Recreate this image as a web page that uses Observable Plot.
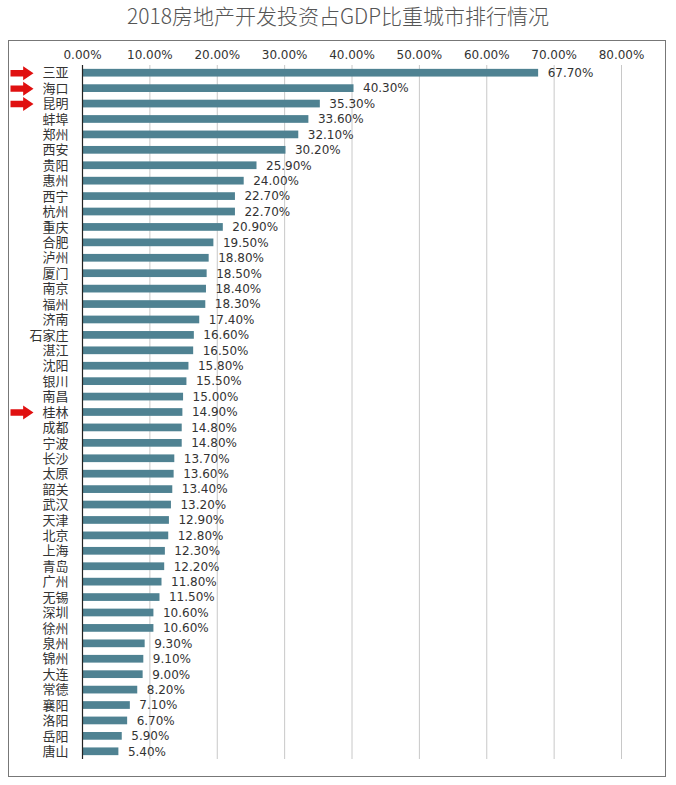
<!DOCTYPE html>
<html>
<head>
<meta charset="utf-8">
<script src="https://cdn.jsdelivr.net/npm/d3@7"></script>
<script src="https://cdn.jsdelivr.net/npm/@observablehq/plot@0.6"></script>
<style>
  html, body { margin: 0; padding: 0; background: #fff; }
  #page { position: relative; width: 676px; height: 785px; }
  #title { position: absolute; left: 0; top: 0px; width: 676px; text-align: center;
    font-family: "Noto Sans CJK SC", sans-serif; font-size: 21px; color: #555; font-weight: 300; }
  #box { position: absolute; left: 8px; top: 40px; width: 656px; height: 735px;
    border: 1px solid #777; }
  #box svg { display: block; }
</style>
</head>
<body>
<div id="page">
  <div id="title">2018房地产开发投资占GDP比重城市排行情况</div>
  <div id="box"></div>
</div>
<script>
const cities = ["三亚","海口","昆明","蚌埠","郑州","西安","贵阳","惠州","西宁","杭州","重庆","合肥","泸州","厦门","南京","福州","济南","石家庄","湛江","沈阳","银川","南昌","桂林","成都","宁波","长沙","太原","韶关","武汉","天津","北京","上海","青岛","广州","无锡","深圳","徐州","泉州","锦州","大连","常德","襄阳","洛阳","岳阳","唐山"];
const values = [67.7,40.3,35.3,33.6,32.1,30.2,25.9,24.0,22.7,22.7,20.9,19.5,18.8,18.5,18.4,18.3,17.4,16.6,16.5,15.8,15.5,15.0,14.9,14.8,14.8,13.7,13.6,13.4,13.2,12.9,12.8,12.3,12.2,11.8,11.5,10.6,10.6,9.3,9.1,9.0,8.2,7.1,6.7,5.9,5.4];
const xTicks = [0,10,20,30,40,50,60,70,80];
const highlighted = ["三亚","海口","昆明","桂林"];

const data = cities.map((c, i) => ({city: c, value: values[i]}));
const marked = data.filter(d => highlighted.includes(d.city));
const pct = v => v.toFixed(2) + "%";

const blockArrow = {
  draw(context, l) {
    const sh = 3.2, hh = 7, hl = l * 0.45;
    context.moveTo(-sh, 0);
    context.lineTo(-sh, -(l - hl));
    context.lineTo(-hh, -(l - hl));
    context.lineTo(0, -l);
    context.lineTo(hh, -(l - hl));
    context.lineTo(sh, -(l - hl));
    context.lineTo(sh, 0);
    context.closePath();
  }
};

const numFont = "'DejaVu Sans', Verdana, sans-serif";

const chart = Plot.plot({
  width: 656,
  height: 735,
  marginLeft: 73,
  marginRight: 44,
  marginTop: 24,
  marginBottom: 17,
  style: {fontFamily: numFont, fontSize: "12px", color: "#333", background: "transparent"},
  x: {domain: [0, 80], axis: null, label: null},
  y: {domain: cities, paddingInner: 0.5, paddingOuter: 0.25, round: false, axis: null, label: null},
  marks: [
    Plot.gridX(xTicks, {stroke: "#c8c8c8", strokeOpacity: 1}),
    Plot.axisX(xTicks, {anchor: "top", label: null, tickSize: 0, tickPadding: 7, tickFormat: pct, fontSize: 12, fill: "#333", letterSpacing: "0.8px"}),
    Plot.barX(data, {x: "value", y: "city", fill: "#4f8292"}),
    Plot.ruleX([0], {stroke: "#222", strokeWidth: 1.2}),
    Plot.text(data, {x: "value", y: "city", text: d => pct(d.value), textAnchor: "start", dx: 9, fill: "#333", fontSize: 12, letterSpacing: "1.2px"}),
    Plot.axisY({anchor: "left", label: null, tickSize: 0, tickPadding: 14, fontSize: 13, letterSpacing: "1.5px", fill: "#333", fontFamily: "'Noto Sans CJK SC', sans-serif"}),
    Plot.vector(marked, {y: "city", frameAnchor: "left", dx: -72, rotate: 90, length: 23, anchor: "start", shape: blockArrow, fill: "#e01010", stroke: "none"})
  ]
});
document.getElementById("box").appendChild(chart);
</script>
</body>
</html>
